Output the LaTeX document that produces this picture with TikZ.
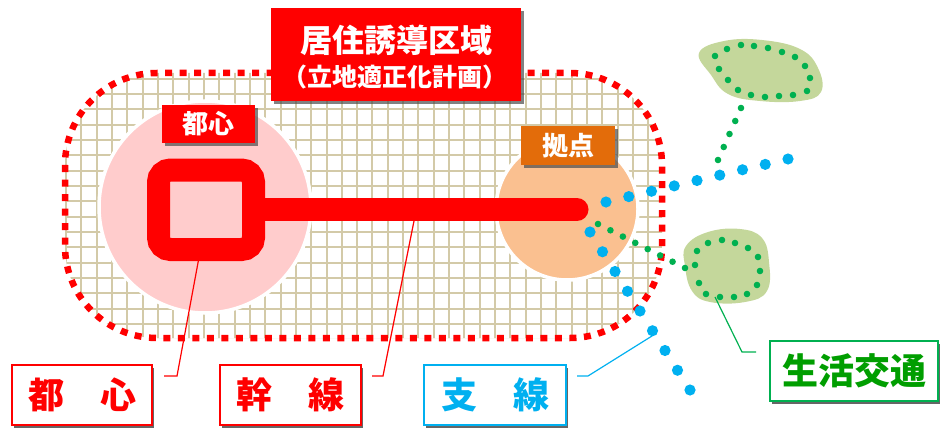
\documentclass[tikz,border=0pt]{standalone}
\usepackage{fontspec}
\newfontfamily\jpfont{Noto Sans CJK JP}
\usetikzlibrary{calc,shadows}
\definecolor{zonered}{HTML}{FF0000}
\definecolor{gridtan}{HTML}{D3CAA8}
\definecolor{cbdpink}{HTML}{FFCCCC}
\definecolor{hubpeach}{HTML}{FAC090}
\definecolor{huborange}{HTML}{E36C0A}
\definecolor{branchblue}{HTML}{00B0F0}
\definecolor{lifegreen}{HTML}{00B050}
\definecolor{lifetext}{HTML}{009E00}
\definecolor{blobgreen}{HTML}{C4D79B}
\begin{document}
\begin{tikzpicture}[x=1pt,y=-1pt,
                gridline/.style={draw=gridtan,line width=2pt},
                zoneborder/.style={draw=zonered,line width=6.5pt,dash pattern=on 7pt off 7.5pt},
                area/.style={circle,draw=white,line width=3.5pt},
                redtag/.style={rectangle,fill=zonered,text=white,inner sep=0pt,
                drop shadow={shadow xshift=3pt,shadow yshift=-3pt,fill=black!70,opacity=0.7}},
                namebox/.style={rectangle,fill=white,line width=1.8pt,inner sep=0pt,
                minimum height=60pt,font=\jpfont\bfseries\fontsize{36}{40}\selectfont,
                drop shadow={shadow xshift=2pt,shadow yshift=-3pt,fill=black!75,opacity=0.8}},
                bluedot/.style={fill=branchblue},
                greendot/.style={fill=lifegreen},
                leader/.style={line width=1.2pt}]
\useasboundingbox (0,0) rectangle (940,428);
% residential zone with grid
\begin{scope}
\clip[rounded corners=92pt] (65,73) rectangle (662,338);
\foreach \col [evaluate=\col as \xx using 4.8+15.32*\col] in {0,...,44}
  \draw[gridline] (\xx,60) -- (\xx,350);
\foreach \row [evaluate=\row as \yy using 2.2+15.32*\row] in {0,...,23}
  \draw[gridline] (50,\yy) -- (680,\yy);
\end{scope}
\draw[zoneborder,rounded corners=92pt] (65,73) rectangle (662,338);
% centre and hub areas
\node (cbdarea) at (205,207) [area,fill=cbdpink,minimum size=212pt] {};
\node (hubarea) at (567,209) [area,fill=hubpeach,minimum size=142pt] {};
% trunk line
\draw[zonered,line width=23pt,line cap=round] (253.5,209.5) -- (577,209.5);
\draw[zonered,fill=cbdpink,line width=23pt,rounded corners=12pt] (158.5,170) rectangle (253.5,249.5);
% branch lines
\coordinate (bup0) at (606,202);
\coordinate (bup1) at (788,159);
\coordinate (bdn0) at (590,232);
\coordinate (bdn1) at (690,390);
\foreach \k in {0,...,8} \fill[bluedot] ($(bup0)!\k/8!(bup1)$) circle (5.6);
\foreach \k in {0,...,8} \fill[bluedot] ($(bdn0)!\k/8!(bdn1)$) circle (5.6);
% community transport
\fill[blobgreen] plot[smooth cycle,tension=0.7] coordinates
  {(699,53) (724,41) (762,40) (800,49) (818,68) (821,92) (800,101) (760,101) (728,94) (711,75)};
\fill[blobgreen] plot[smooth cycle,tension=0.7] coordinates
  {(686,246) (708,232) (740,229) (762,238) (769,262) (767,291) (745,302) (710,302) (692,291) (685,266)};
\foreach \p in {(715,56),(727,49),(741,45),(754,46),(768,48),(782,52),(795,57),(805,66),(810,78),
  (807,91),(793,95),(779,96),(765,97),(751,95),(738,90),(728,80),(719,69)}
  \fill[greendot] \p circle (3.3);
\foreach \p in {(697,251),(708,243),(722,240),(735,243),(748,248),(758,257),(760,271),(757,285),
  (747,294),(734,297),(720,297),(706,294),(699,283),(695,265)}
  \fill[greendot] \p circle (3.3);
\coordinate (gup0) at (741,108);
\coordinate (gup1) at (718,160);
\coordinate (gdn0) at (598,224);
\coordinate (gdn1) at (685,268);
\foreach \k in {0,...,4} \fill[greendot] ($(gup0)!\k/4!(gup1)$) circle (3.3);
\foreach \k in {0,...,7} \fill[greendot] ($(gdn0)!\k/7!(gdn1)$) circle (3.3);
% tags
\node (zonetag) at (396,54.5) [redtag,minimum width=250pt,minimum height=93pt] {};
\node (zoneline1) at (396,40) [font=\jpfont\bfseries\fontsize{32}{36}\selectfont,text=white] {居住誘導区域};
\node (zoneline2) at (395,77) [font=\jpfont\bfseries\fontsize{25}{28}\selectfont,text=white] {（立地適正化計画）};
\node (cbdtag) at (208.5,124) [redtag,minimum width=93pt,minimum height=38pt,
  font=\jpfont\bfseries\fontsize{26}{28}\selectfont] {都心};
\node (hubtag) at (568,145.5) [redtag,fill=huborange,minimum width=94pt,minimum height=39pt,
  font=\jpfont\bfseries\fontsize{26}{28}\selectfont] {拠点};
% legend boxes
\node (cbdbox) at (82,395) [namebox,draw=zonered,text=zonered,minimum width=140pt] {都　心};
\node (trunkbox) at (290.5,395) [namebox,draw=zonered,text=zonered,minimum width=141pt] {幹　線};
\node (branchbox) at (495,395) [namebox,draw=branchblue,text=branchblue,minimum width=142pt] {支　線};
\node (lifebox) at (854,371) [namebox,draw=lifegreen,text=lifetext,minimum width=168pt] {生活交通};
% leaders
\coordinate (cbdpt) at (200,252);
\coordinate (cbdend) at (164,376);
\coordinate (trunkpt) at (414,221);
\coordinate (trunkend) at (372,376);
\coordinate (branchpt) at (652,336);
\coordinate (branchend) at (577,376);
\coordinate (lifept) at (715,297);
\coordinate (lifeend) at (756,352);
\draw[leader,zonered] (cbdpt) -- (177,376) -- (cbdend);
\draw[leader,zonered] (trunkpt) -- (383,376) -- (trunkend);
\draw[leader,branchblue] (branchpt) -- (588,376) -- (branchend);
\draw[leader,lifegreen] (lifept) -- (742,352) -- (lifeend);
\end{tikzpicture}
\end{document}
